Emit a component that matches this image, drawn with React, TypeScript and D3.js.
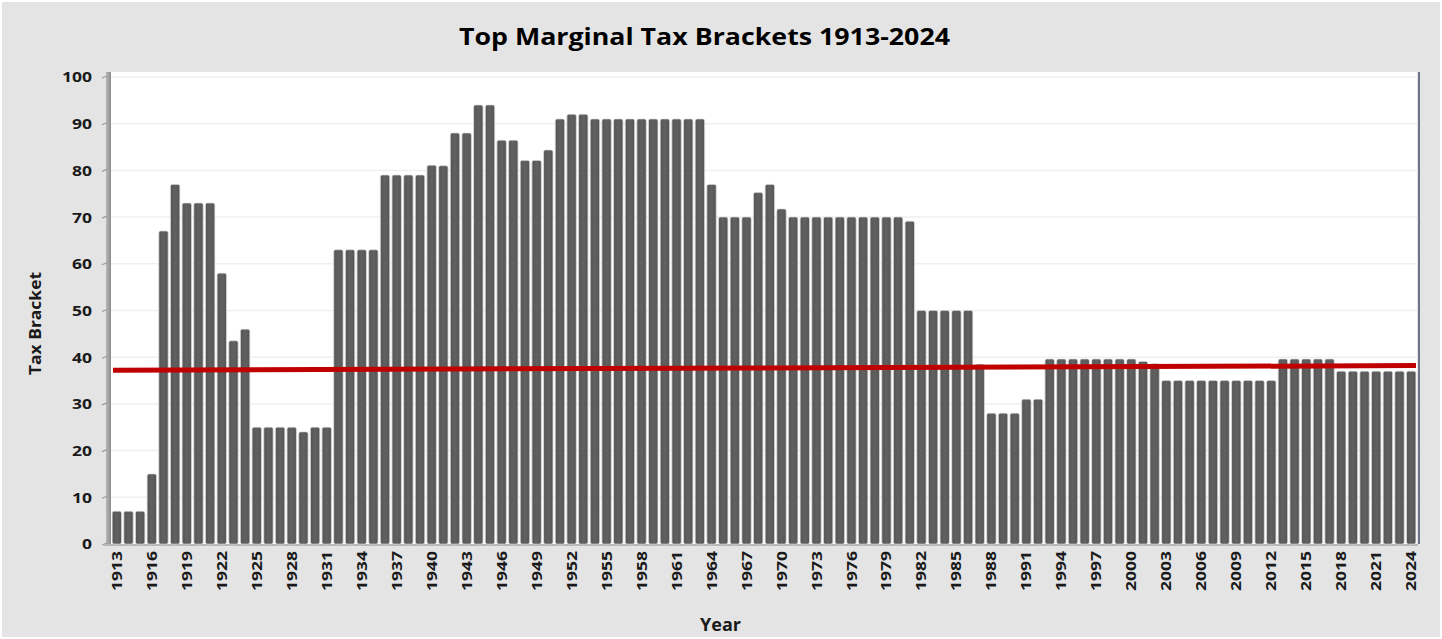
import React from "react";
import * as d3 from "d3";

const years: number[] = d3.range(1913, 2025);
const rates: number[] = [
  7, 7, 7, 15, 67, 77, 73, 73, 73, 58,
  43.5, 46, 25, 25, 25, 25, 24, 25, 25, 63,
  63, 63, 63, 79, 79, 79, 79, 81.1, 81, 88,
  88, 94, 94, 86.45, 86.45, 82.13, 82.13, 84.36, 91, 92,
  92, 91, 91, 91, 91, 91, 91, 91, 91, 91,
  91, 77, 70, 70, 70, 75.25, 77, 71.75, 70, 70,
  70, 70, 70, 70, 70, 70, 70, 70, 69.13, 50,
  50, 50, 50, 50, 38.5, 28, 28, 28, 31, 31,
  39.6, 39.6, 39.6, 39.6, 39.6, 39.6, 39.6, 39.6, 39.1, 38.6,
  35, 35, 35, 35, 35, 35, 35, 35, 35, 35,
  39.6, 39.6, 39.6, 39.6, 39.6, 37, 37, 37, 37, 37,
  37, 37,
];
const yTicks: number[] = [0, 10, 20, 30, 40, 50, 60, 70, 80, 90, 100];
const trendValues: number[] = [37.2, 38.2];
const title = "Top Marginal Tax Brackets 1913-2024";
const yTitle = "Tax Bracket";
const xTitle = "Year";

const W = 1442;
const H = 639;
const FONT = "'Open Sans', Lato, sans-serif";

export default function App() {
  const left = 111;
  const right = 1417;
  const top = 72;
  const bottom = 544;

  const x = d3.scaleBand<number>().domain(years).range([left, right]).paddingInner(0.18).paddingOuter(0.09);
  const y = d3.scaleLinear().domain([0, 100]).range([bottom, 77]);
  const bw = x.bandwidth();

  const trendX0 = left + 2;
  const trendX1 = right - 1;
  const trendLine = d3.line<[number, number]>().x((d) => d[0]).y((d) => y(d[1]));

  return (
    <svg
      width={W}
      height={H}
      style={{ position: "absolute", left: 0, top: 0, display: "block" }}
      fontFamily={FONT}
    >
      <defs>
        <linearGradient id="barGrad" x1="0" x2="1" y1="0" y2="0">
          <stop offset="0" stopColor="#9a9a9a" />
          <stop offset="0.12" stopColor="#585858" />
          <stop offset="0.5" stopColor="#616161" />
          <stop offset="0.88" stopColor="#585858" />
          <stop offset="1" stopColor="#8a8a8a" />
        </linearGradient>
        <linearGradient id="wallGrad" x1="0" x2="1" y1="0" y2="0">
          <stop offset="0" stopColor="#b8b8b8" />
          <stop offset="1" stopColor="#8c8c8c" />
        </linearGradient>
      </defs>
      <rect x={0} y={0} width={W} height={H} fill="#ffffff" />
      <rect x={2} y={2} width={W - 4} height={H - 4} fill="#e4e4e4" />
      {/* plot area */}
      <rect x={left} y={top} width={right - left} height={bottom - top} fill="#ffffff" />
      {/* gridlines */}
      {yTicks.filter((t) => t > 0).map((t) => (
        <line key={"g" + t} x1={left} x2={right} y1={y(t)} y2={y(t)} stroke="#efefef" strokeWidth={1.5} />
      ))}
      {/* y wall */}
      <rect x={106} y={top} width={5} height={bottom - top} fill="url(#wallGrad)" />
      {yTicks.map((t) => (
        <g key={"t" + t}>
          <line x1={102} x2={107} y1={y(t) + 1} y2={y(t) - 1} stroke="#9a9a9a" strokeWidth={1.2} />
          <text
            x={92}
            y={y(t)}
            dy="0.36em"
            textAnchor="end"
            fontSize={15}
            fontWeight={700}
            fill="#1a1a1a"
            textLength={String(t).length * 10}
            lengthAdjust="spacingAndGlyphs"
          >
            {t}
          </text>
        </g>
      ))}
      {/* floor */}
      <line x1={104} x2={right + 1} y1={bottom + 1} y2={bottom + 1} stroke="#b8b8b8" strokeWidth={2} />
      {/* bars */}
      {years.map((yr, i) => (
        <rect
          key={yr}
          x={x(yr)!}
          y={y(rates[i])}
          width={bw}
          height={bottom - y(rates[i])}
          rx={2}
          ry={2}
          fill="url(#barGrad)"
          stroke="#d8d8d8"
          strokeWidth={0.6}
        />
      ))}
      {/* right border */}
      <line x1={1419} x2={1419} y1={top} y2={bottom} stroke="#4e5a70" strokeWidth={1.6} />
      {/* trend line */}
      <path
        d={trendLine([
          [trendX0, trendValues[0]],
          [trendX1, trendValues[1]],
        ])!}
        stroke="#c00000"
        strokeWidth={5}
        fill="none"
      />
      {/* x labels */}
      {years.map((yr, i) =>
        i % 3 === 0 ? (
          <text
            key={"xl" + yr}
            transform={`translate(${x(yr)! + bw / 2},551) rotate(-90)`}
            textAnchor="end"
            dy="0.36em"
            fontSize={14}
            fontWeight={700}
            fill="#1a1a1a"
            textLength={40}
            lengthAdjust="spacingAndGlyphs"
          >
            {yr}
          </text>
        ) : null
      )}
      {/* titles */}
      <text
        x={704.5}
        y={45}
        textAnchor="middle"
        fontSize={23}
        fontWeight={700}
        fill="#000"
        textLength={491}
        lengthAdjust="spacingAndGlyphs"
      >
        {title}
      </text>
      <text
        transform={`translate(41,323.5) rotate(-90)`}
        textAnchor="middle"
        fontSize={16}
        fontWeight={700}
        fill="#1a1a1a"
        textLength={103}
        lengthAdjust="spacingAndGlyphs"
      >
        {yTitle}
      </text>
      <text
        x={720.5}
        y={631}
        textAnchor="middle"
        fontSize={17}
        fontWeight={700}
        fill="#1a1a1a"
        textLength={41}
        lengthAdjust="spacingAndGlyphs"
      >
        {xTitle}
      </text>
    </svg>
  );
}
